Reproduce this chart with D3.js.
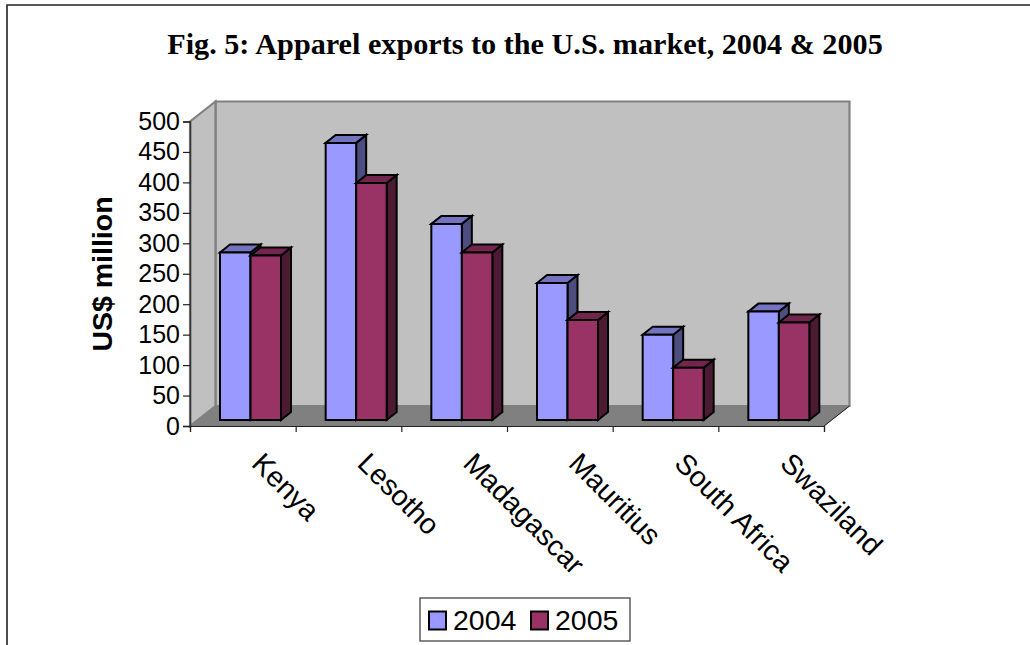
<!DOCTYPE html>
<html>
<head>
<meta charset="utf-8">
<script src="https://d3js.org/d3.v7.min.js"></script>
<style>
html,body{margin:0;padding:0;background:#fff;overflow:hidden;}
text{fill:#000;}
</style>
</head>
<body>
<svg id="chart" width="1030" height="645"></svg>
<script>
const categories = ['Kenya','Lesotho','Madagascar','Mauritius','South Africa','Swaziland'];
const years = ['2004','2005'];
const values2004 = [275,455,322,225,140,178];
const values2005 = [270,389,275,164,86,160];
const yTicks = [0,50,100,150,200,250,300,350,400,450,500];
const frontColors = ['#9999ff','#993366'];
const topColors = ['#7373bf','#73264d'];
const sideColors = ['#4d4d80','#4d1a33'];

const svg = d3.select('#chart');
const sans = '"Liberation Sans", Arial, sans-serif';
const serif = '"Liberation Serif", "Times New Roman", serif';

// depth of the floor and of the bars
const wallDx = 25.5, wallDy = 20;
const barDx = 10, barDy = 8, barLift = 6;

const x = d3.scaleBand().domain(categories).range([190,824]);
const xEdges = d3.scaleLinear().domain([0,6]).range([190,824]);
const group = d3.scaleBand().domain(years).range([30,91]);
const y = d3.scaleLinear().domain([0,500]).range([426,121.5]);

function poly(points,fill,stroke,sw){
  return svg.append('polygon')
    .attr('points',points.map(p=>p.join(',')).join(' '))
    .attr('fill',fill)
    .attr('stroke',stroke)
    .attr('stroke-width',sw)
    .attr('stroke-linejoin','miter');
}

// page frame, open at right and bottom
svg.append('path').attr('d','M7,645V5H1030').attr('fill','none').attr('stroke','#222').attr('stroke-width',1.6);

// title
svg.append('text').attr('x',525).attr('y',54).attr('text-anchor','middle')
  .attr('font-family',serif).attr('font-weight','bold').attr('font-size',30.2)
  .text('Fig. 5: Apparel exports to the U.S. market, 2004 & 2005');

// walls and floor
const x0 = xEdges(0), x1 = xEdges(6), yb = y(0), yt = y(500);
poly([[x0+wallDx,yt-wallDy],[x1+wallDx,yt-wallDy],[x1+wallDx,yb-wallDy],[x0+wallDx,yb-wallDy]],'#c0c0c0','#808080',2.2);
poly([[x0,yt],[x0+wallDx,yt-wallDy],[x0+wallDx,yb-wallDy],[x0,yb]],'#c0c0c0','#808080',2.2);
poly([[x0,yb],[x0+wallDx,yb-wallDy],[x1+wallDx,yb-wallDy],[x1,yb]],'#808080','#808080',1);
svg.append('line').attr('x1',x1).attr('y1',yb).attr('x2',x1+wallDx).attr('y2',yb-wallDy).attr('stroke','#222').attr('stroke-width',1);

// bars
categories.forEach((c,i)=>{
  [values2004[i],values2005[i]].forEach((v,k)=>{
    const l = x(c)+group(years[k]), r = l+group.bandwidth();
    const t = y(v)-barLift, b = y(0)-barLift;
    poly([[r,t],[r+barDx,t-barDy],[r+barDx,b-barDy],[r,b]],sideColors[k],'#000',2);
    poly([[l,t],[l+barDx,t-barDy],[r+barDx,t-barDy],[r,t]],topColors[k],'#000',2);
    poly([[l,t],[r,t],[r,b],[l,b]],frontColors[k],'#000',2);
  });
});

// y axis
const yAxis = svg.append('g').attr('transform','translate(190,0)')
  .call(d3.axisLeft(y).tickValues(yTicks).tickSize(7).tickPadding(3));
yAxis.selectAll('text').attr('font-family',sans).attr('font-size',25).attr('fill','#000');
yAxis.selectAll('line').attr('stroke','#222').attr('stroke-width',1.2);
yAxis.select('.domain').attr('stroke','#333').attr('stroke-width',1.5);

// x axis, ticks sit on the category edges
const xAxis = svg.append('g').attr('transform','translate(0,426)')
  .call(d3.axisBottom(xEdges).ticks(6).tickSize(6).tickFormat(''));
xAxis.selectAll('line').attr('stroke','#222').attr('stroke-width',1.2);
xAxis.select('.domain').attr('stroke','#222').attr('stroke-width',1.2);

// category labels
const xLabels = svg.append('g').attr('transform','translate(0,426)')
  .call(d3.axisBottom(x).tickSize(0));
xLabels.select('.domain').remove();
xLabels.selectAll('text')
  .attr('font-family',sans).attr('font-size',28.5).attr('fill','#000')
  .attr('text-anchor','start')
  .attr('dy',0).attr('y',0)
  .attr('transform','translate(7.5,39) rotate(45)');

// y title
svg.append('text').attr('transform','translate(112,274) rotate(-90)')
  .attr('text-anchor','middle').attr('font-family',sans).attr('font-weight','bold').attr('font-size',28.5)
  .text('US$ million');

// legend
svg.append('rect').attr('x',420).attr('y',598).attr('width',210).attr('height',43)
  .attr('fill','#fff').attr('stroke','#444').attr('stroke-width',1.3);
years.forEach((yr,k)=>{
  const lx = 429+k*102;
  svg.append('rect').attr('x',lx).attr('y',611.5).attr('width',17).attr('height',18)
    .attr('fill',frontColors[k]).attr('stroke','#000').attr('stroke-width',2);
  svg.append('text').attr('x',lx+24).attr('y',630)
    .attr('font-family',sans).attr('font-size',28.5).text(yr);
});
</script>
</body>
</html>
